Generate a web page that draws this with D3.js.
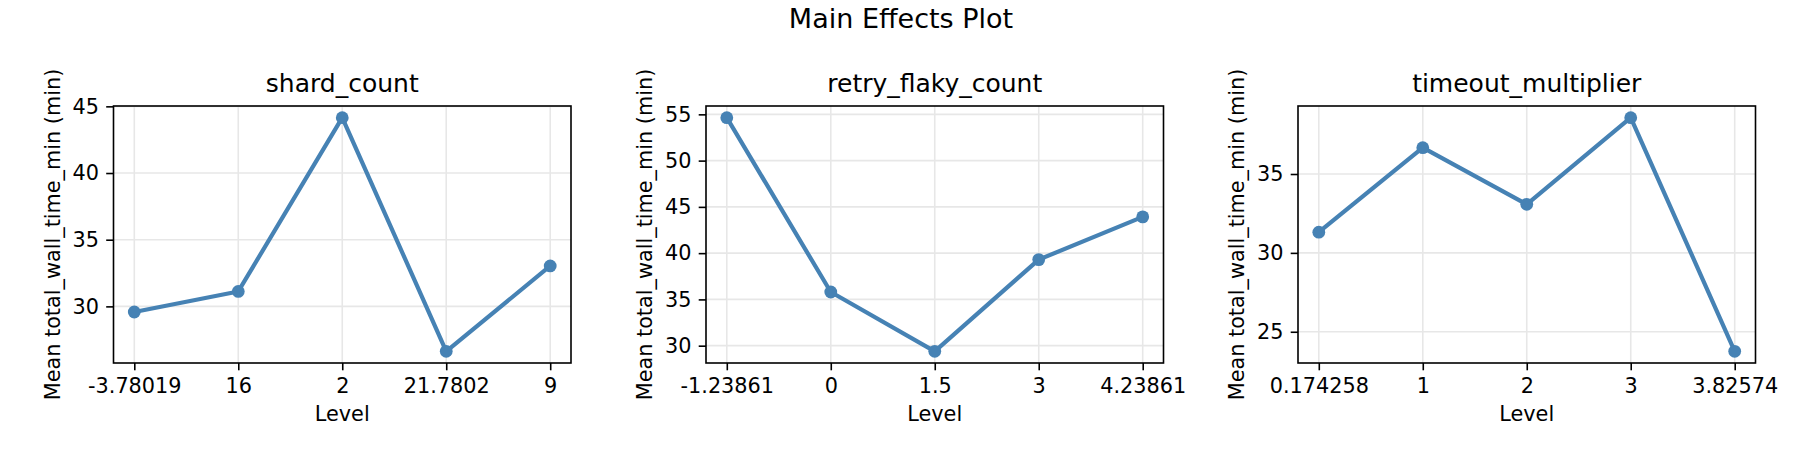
<!DOCTYPE html>
<meta charset="utf-8">
<style>
  body { margin: 0; background: #fff; }
  text { font-family: 'DejaVu Sans', sans-serif; fill: #000; }
</style>
<body>
<div id="chart"></div>
<script src="https://d3js.org/d3.v7.min.js"></script>
<script>

// data
var shardLevels = ["-3.78019", "16", "2", "21.7802", "9"];
var shardMeans = [29.58, 31.12, 44.15, 26.63, 33.03];
var shardTicks = [30, 35, 40, 45];

var retryLevels = ["-1.23861", "0", "1.5", "3", "4.23861"];
var retryMeans = [54.64, 35.8, 29.39, 39.3, 43.92];
var retryTicks = [30, 35, 40, 45, 50, 55];

var timeoutLevels = ["0.174258", "1", "2", "3", "3.82574"];
var timeoutMeans = [31.31, 36.67, 33.08, 38.57, 23.76];
var timeoutTicks = [25, 30, 35];

var panels = [
  {title: "shard_count", levels: shardLevels, means: shardMeans, ticks: shardTicks},
  {title: "retry_flaky_count", levels: retryLevels, means: retryMeans, ticks: retryTicks},
  {title: "timeout_multiplier", levels: timeoutLevels, means: timeoutMeans, ticks: timeoutTicks}
];

var W = 1800, H = 450;
var lefts = [113.5, 706, 1298];
var axTop = 106, axBottom = 363, pw = 457.5;
var ph = axBottom - axTop;
var color = "#4682b4";

var svg = d3.select("#chart").append("svg")
    .attr("width", W)
    .attr("height", H);

svg.append("text")
    .attr("x", 901)
    .attr("y", 28)
    .attr("text-anchor", "middle")
    .style("font-size", "27px")
    .text("Main Effects Plot");

panels.forEach(function(p, i) {
  var g = svg.append("g")
      .attr("transform", "translate(" + lefts[i] + "," + axTop + ")");

  // x: categories, matplotlib style 5% margins
  var x = d3.scalePoint()
      .domain(p.levels)
      .range([0, pw])
      .padding(0.2);

  // y: data extent plus 5% each side
  var ext = d3.extent(p.means);
  var pad = (ext[1] - ext[0]) * 0.05;
  var y = d3.scaleLinear()
      .domain([ext[0] - pad, ext[1] + pad])
      .range([ph, 0]);
  var ticks = p.ticks.filter(function(t) {
    return t >= y.domain()[0] - 0.05 && t <= y.domain()[1] + 0.05;
  });

  // grid
  g.selectAll(".gx").data(p.levels).enter().append("line")
      .attr("x1", function(d) { return x(d); })
      .attr("x2", function(d) { return x(d); })
      .attr("y1", 0).attr("y2", ph)
      .attr("stroke", "#e7e7e7").attr("stroke-width", 1.6);
  g.selectAll(".gy").data(ticks).enter().append("line")
      .attr("x1", 0).attr("x2", pw)
      .attr("y1", function(d) { return y(d); })
      .attr("y2", function(d) { return y(d); })
      .attr("stroke", "#e7e7e7").attr("stroke-width", 1.6);

  // axes
  var xa = g.append("g")
      .attr("transform", "translate(0," + ph + ")")
      .call(d3.axisBottom(x).tickSize(7.3).tickPadding(8));
  var ya = g.append("g")
      .call(d3.axisLeft(y).tickValues(ticks).tickSize(7.3).tickPadding(7.3).tickFormat(d3.format("d")));
  [xa, ya].forEach(function(a) {
    a.select(".domain").remove();
    a.attr("font-family", null).attr("font-size", null);
    a.selectAll("line").attr("stroke", "#000").attr("stroke-width", 1.6);
    a.selectAll("text").style("font-size", "20.8px").attr("fill", "#000");
  });

  // line + markers
  var line = d3.line()
      .x(function(d, k) { return x(p.levels[k]); })
      .y(function(d) { return y(d); });
  g.append("path")
      .datum(p.means)
      .attr("d", line)
      .attr("fill", "none")
      .attr("stroke", color)
      .attr("stroke-width", 4.2)
      .attr("stroke-linejoin", "round");
  g.selectAll(".dot").data(p.means).enter().append("circle")
      .attr("cx", function(d, k) { return x(p.levels[k]); })
      .attr("cy", function(d) { return y(d); })
      .attr("r", 6.4)
      .attr("fill", color);

  // frame
  g.append("rect")
      .attr("width", pw).attr("height", ph)
      .attr("fill", "none")
      .attr("stroke", "#000")
      .attr("stroke-width", 1.6);

  g.append("text")
      .attr("x", pw / 2)
      .attr("y", -14)
      .attr("text-anchor", "middle")
      .style("font-size", "25px")
      .text(p.title);

  g.append("text")
      .attr("x", pw / 2)
      .attr("y", ph + 58)
      .attr("text-anchor", "middle")
      .style("font-size", "20.8px")
      .text("Level");

  g.append("text")
      .attr("transform", "translate(-54," + (ph / 2) + ") rotate(-90)")
      .attr("text-anchor", "middle")
      .style("font-size", "20.8px")
      .text("Mean total_wall_time_min (min)");
});

</script>
</body>
